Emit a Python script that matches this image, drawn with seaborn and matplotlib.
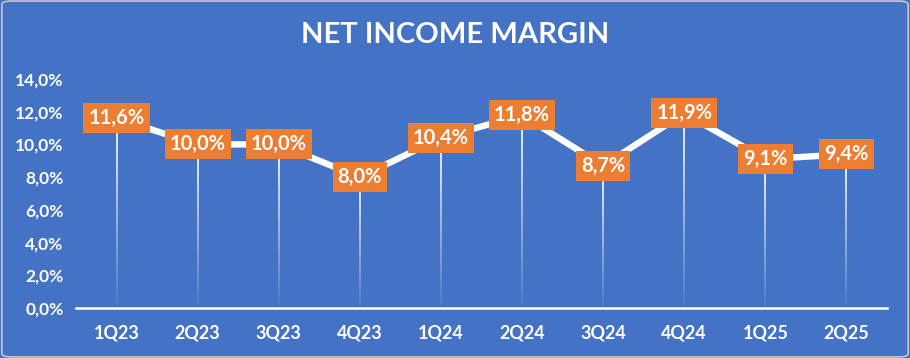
import numpy as np
import pandas as pd
import matplotlib
matplotlib.use("Agg")
import matplotlib.pyplot as plt
import seaborn as sns
from matplotlib.patches import FancyBboxPatch

# ---- data ----
quarters = ["1Q23", "2Q23", "3Q23", "4Q23", "1Q24", "2Q24", "3Q24", "4Q24", "1Q25", "2Q25"]
margins = [11.6, 10.0, 10.0, 8.0, 10.4, 11.8, 8.7, 11.9, 9.1, 9.4]
y_ticks = [0, 2, 4, 6, 8, 10, 12, 14]
y_tick_labels = ["0,0%", "2,0%", "4,0%", "6,0%", "8,0%", "10,0%", "12,0%", "14,0%"]
title = "NET INCOME MARGIN"

BLUE = "#4472C4"
ORANGE = "#ED7D31"
FONT = ["Lato", "DejaVu Sans"]

sns.set_style("white")
plt.rcParams["font.family"] = FONT

df = pd.DataFrame({"quarter": quarters, "margin": margins})
df["pos"] = np.arange(len(df))

fig = plt.figure(figsize=(9.10, 3.58), dpi=100, facecolor=BLUE)
ax = fig.add_axes([76 / 910, 1 - 308 / 358, (887 - 76) / 910, (308 - 79) / 358])
ax.set_facecolor(BLUE)

# fading drop lines from each point to zero
nseg = 60
for x, v in zip(df["pos"], df["margin"]):
    edges = np.linspace(0, v, nseg + 1)
    for i in range(nseg):
        a = 0.05 + 0.9 * (i / nseg)
        ax.plot([x, x], [edges[i], edges[i + 1]], color="white", alpha=a,
                lw=1.4, solid_capstyle="butt", zorder=1)

sns.lineplot(data=df, x="pos", y="margin", ax=ax, color="white", lw=4.6,
             zorder=2, legend=False)

for x, v in zip(df["pos"], df["margin"]):
    ax.text(x, v, f"{v:.1f}%".replace(".", ","), ha="center", va="center",
            color="white", fontsize=14.5, fontweight="bold", zorder=5,
            bbox=dict(boxstyle="square,pad=0.25", fc=ORANGE, ec="none"))

ax.set_xlim(-0.5, len(quarters) - 0.5)
ax.set_ylim(0, 14)
ax.set_xticks(df["pos"])
ax.set_xticklabels(quarters)
ax.set_yticks(y_ticks)
ax.set_yticklabels(y_tick_labels)
ax.tick_params(axis="both", colors="white", length=0)
ax.tick_params(axis="x", pad=12, labelsize=13)
ax.tick_params(axis="y", pad=9, labelsize=12.5)
for lab in ax.get_xticklabels() + ax.get_yticklabels():
    lab.set_fontweight("bold")
ax.set_xlabel("")
ax.set_ylabel("")
for s in ["top", "right", "left"]:
    ax.spines[s].set_visible(False)
ax.spines["bottom"].set_color("white")
ax.spines["bottom"].set_linewidth(1.8)
ax.grid(False)

fig.text(0.5, 1 - 35 / 358, title, ha="center", va="center", color="white",
         fontsize=21, fontweight="bold")

border = FancyBboxPatch((0.002, 0.003), 0.996, 0.994, boxstyle="round,pad=0,rounding_size=0.01",
                        transform=fig.transFigure, fc="none", ec="#c8c8c8", lw=1.2, zorder=10)
fig.patches.append(border)

fig.savefig("out.png", dpi=100, facecolor=BLUE)
